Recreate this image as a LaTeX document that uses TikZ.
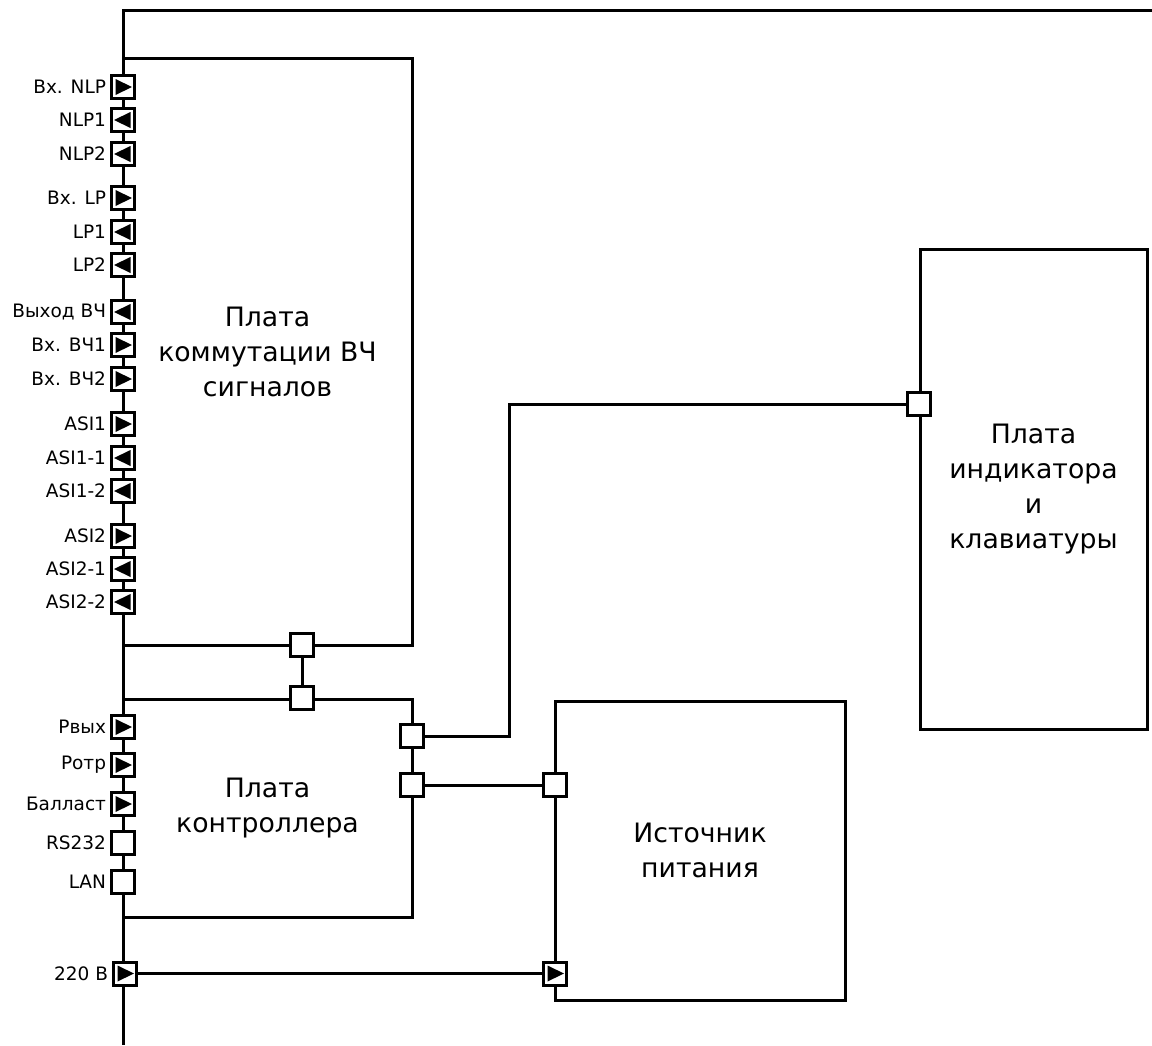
\documentclass[tikz,border=0pt]{standalone}
\usepackage{fontspec}
\setmainfont{DejaVu Sans}
\newcommand\myPortFont{\fontsize{18.5}{21}\selectfont}
\newcommand\myBoardFont{\fontsize{26.7}{35}\selectfont}
\begin{document}
\begin{tikzpicture}[x=1pt,y=-1pt,line width=3pt,
  board/.style={draw,line width=3pt,inner sep=0pt,font=\myBoardFont,align=center},
  port/.style={draw,fill=white,minimum size=23pt,inner sep=0pt,line width=3pt},
  pin/.style={port,label={[font=\myPortFont,inner sep=0pt,label distance=2.5pt]left:#1}},
  inR/.style={path picture={\fill[black] ([xshift=-7.5pt,yshift=8pt]path picture bounding box.center) -- ([xshift=9pt]path picture bounding box.center) -- ([xshift=-7.5pt,yshift=-8pt]path picture bounding box.center) -- cycle;}},
  outL/.style={path picture={\fill[black] ([xshift=7.5pt,yshift=8pt]path picture bounding box.center) -- ([xshift=-9pt]path picture bounding box.center) -- ([xshift=7.5pt,yshift=-8pt]path picture bounding box.center) -- cycle;}}
]
\useasboundingbox (0,0) rectangle (1152,1045);

% main bus
\coordinate (tr) at (1152,10);
\coordinate (tl) at (123,10);
\coordinate (bl) at (123,1045);
\draw (tr) -- (tl) -- (bl);

% boards
\node[board,minimum width=289pt,minimum height=587pt] (rf) at (267.5,351.5) {Плата\\коммутации ВЧ\\сигналов};
\node[board,minimum width=289pt,minimum height=218pt] (ctl) at (267.5,808) {Плата\\контроллера};
\node[board,minimum width=290pt,minimum height=299pt] (psu) at (700,850.5) {Источник\\питания};
\node[board,minimum width=227pt,minimum height=480pt] (ind) at (1033.5,489) {Плата\\индикатора\\и\\клавиатуры};

% ports of the RF board
\node[pin=Вх. NLP,inR]   (p1)  at (123,87)  {};
\node[pin=NLP1,outL]     (p2)  at (123,120) {};
\node[pin=NLP2,outL]     (p3)  at (123,154) {};
\node[pin=Вх. LP,inR]    (p4)  at (123,198) {};
\node[pin=LP1,outL]      (p5)  at (123,232) {};
\node[pin=LP2,outL]      (p6)  at (123,265) {};
\node[pin=Выход ВЧ,outL] (p7)  at (123,312) {};
\node[pin=Вх. ВЧ1,inR]   (p8)  at (123,345) {};
\node[pin=Вх. ВЧ2,inR]   (p9)  at (123,379) {};
\node[pin=ASI1,inR]      (p10) at (123,424) {};
\node[pin=ASI1-1,outL]   (p11) at (123,458) {};
\node[pin=ASI1-2,outL]   (p12) at (123,491) {};
\node[pin=ASI2,inR]      (p13) at (123,536) {};
\node[pin=ASI2-1,outL]   (p14) at (123,569) {};
\node[pin=ASI2-2,outL]   (p15) at (123,602) {};

% ports of the controller board
\node[pin=Рвых,inR]      (q1) at (123,727) {};
\node[pin=Ротр,inR]      (q2) at (123,765) {};
\node[pin=Балласт,inR]   (q3) at (123,804) {};
\node[pin=RS232]         (q4) at (123,843) {};
\node[pin=LAN]           (q5) at (123,882) {};

% mains input
\node[pin=220 В,inR]     (v220) at (125,973.5) {};

% junction ports
\node[port] (j1) at (302,645) {};
\node[port] (j2) at (302,698) {};
\node[port] (c1) at (411.5,736) {};
\node[port] (c2) at (411.5,785) {};
\node[port] (s1) at (555,785) {};
\node[port,inR] (s2) at (555,973.5) {};
\node[port] (i1) at (919,404) {};

% connectors
\coordinate (k) at (509,404);
\draw (j1) -- (j2);
\draw (c1) -| (k) -- (i1);
\draw (c2) -- (s1);
\draw (v220) -- (s2);
\end{tikzpicture}
\end{document}
